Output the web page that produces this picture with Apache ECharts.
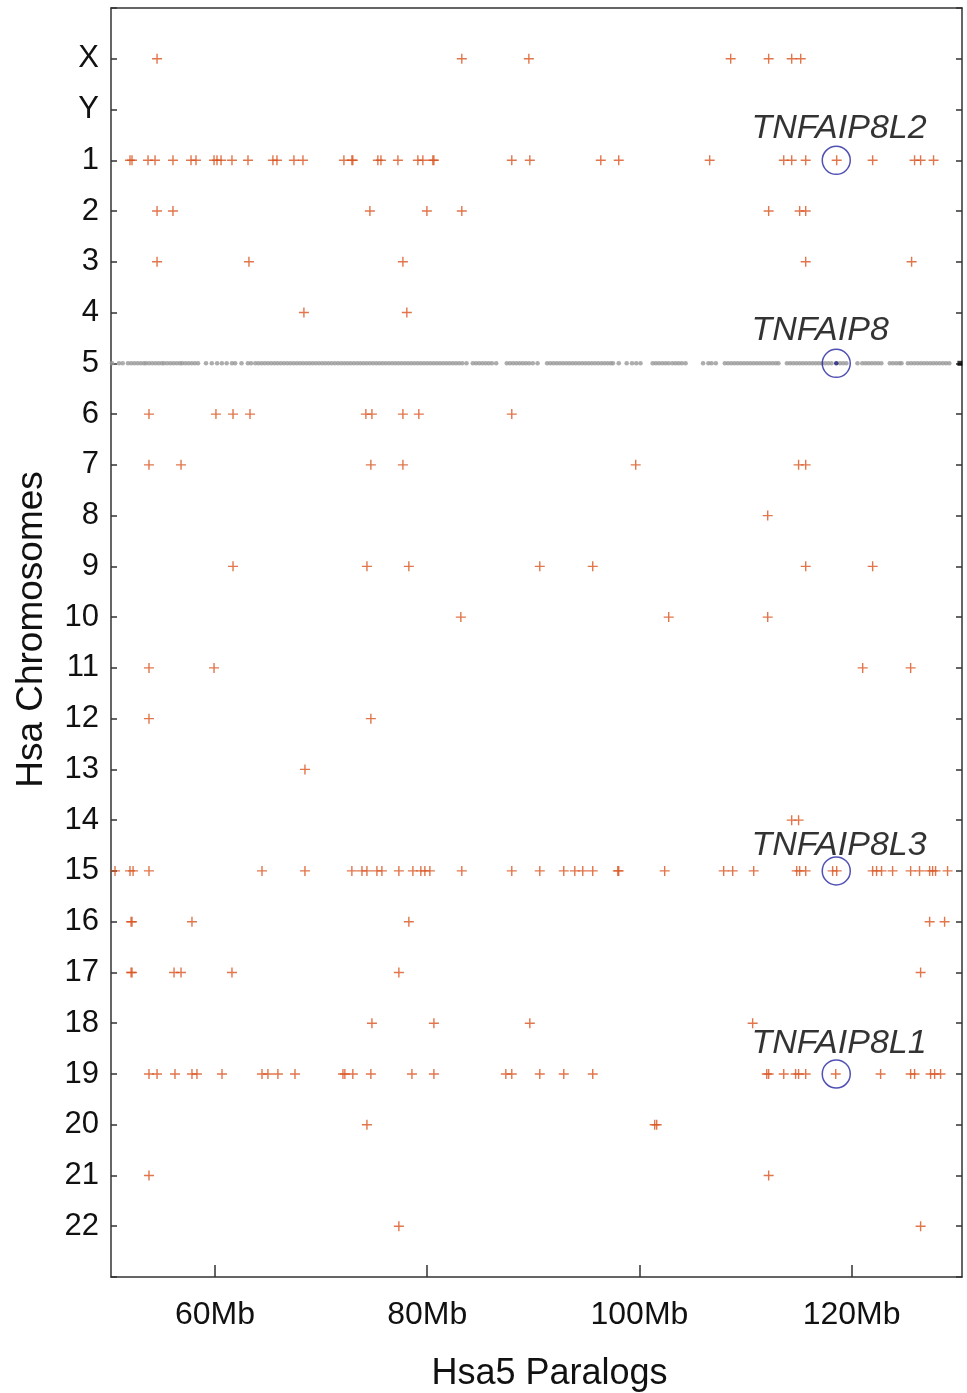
<!DOCTYPE html>
<html>
<head>
<meta charset="utf-8">
<script src="https://cdn.jsdelivr.net/npm/echarts@6/dist/echarts.min.js"></script>
<style>
html,body{margin:0;padding:0;background:#fff;}
#chart{width:967px;height:1393px;}
</style>
</head>
<body>
<div id="chart"></div>
<script>
// Chromosome categories (top to bottom)
const categories = ['X','Y','1','2','3','4','5','6','7','8','9','10','11','12','13','14','15','16','17','18','19','20','21','22'];
// x tick values (Mb)
const xTicks = [60, 80, 100, 120];

// Paralog positions on Hsa5 (Mb) for each chromosome row
const chrX = [54.54, 83.26, 89.58, 108.6, 112.18, 114.35, 115.2];
const chrY = [];
const chr1 = [51.99, 52.18, 53.69, 54.35, 56.04, 57.74, 58.21, 59.91, 60.19, 60.57, 61.6, 63.11, 65.46, 65.84, 67.44, 68.29, 72.15, 72.9, 72.99, 75.35, 75.64, 77.24, 79.12, 79.59, 80.53, 80.63, 87.97, 89.67, 96.36, 98.05, 106.62, 113.6, 114.35, 115.67, 118.59, 121.98, 125.93, 126.5, 127.72];
const chr2 = [54.54, 56.04, 74.6, 79.97, 83.26, 112.18, 115.1, 115.67];
const chr3 = [54.54, 63.2, 77.71, 115.67, 125.65];
const chr4 = [68.38, 78.08];
const chr5 = [];
const chr6 = [53.78, 60.09, 61.7, 63.3, 74.22, 74.79, 77.71, 79.21, 87.97];
const chr7 = [53.78, 56.8, 74.69, 77.71, 99.65, 115.0, 115.67];
const chr8 = [112.09];
const chr9 = [61.7, 74.32, 78.27, 90.61, 95.6, 115.67, 121.98];
const chr10 = [83.17, 102.76, 112.09];
const chr11 = [53.78, 59.91, 121.04, 125.56];
const chr12 = [53.78, 74.69];
const chr13 = [68.48];
const chr14 = [114.35, 115.0];
const chr15 = [50.58, 51.99, 52.28, 53.78, 64.43, 68.48, 72.9, 73.85, 74.32, 75.26, 75.73, 77.33, 78.65, 79.4, 79.78, 80.25, 83.26, 87.97, 90.61, 92.87, 93.91, 94.66, 95.6, 97.96, 98.05, 102.38, 107.94, 108.79, 110.77, 114.82, 115.1, 115.67, 118.21, 118.59, 121.98, 122.35, 122.82, 123.86, 125.56, 126.4, 127.35, 127.63, 127.91, 129.04];
const chr16 = [52.09, 52.18, 57.83, 78.27, 127.35, 128.76];
const chr17 = [52.09, 52.18, 56.14, 56.8, 61.6, 77.33, 126.5];
const chr18 = [74.79, 80.63, 89.67, 110.67];
const chr19 = [53.78, 54.54, 56.23, 57.83, 58.3, 60.66, 64.43, 64.99, 65.93, 67.54, 72.06, 72.24, 72.99, 74.69, 78.56, 80.63, 87.41, 87.97, 90.61, 92.87, 95.6, 112.0, 112.18, 113.6, 114.72, 115.0, 115.67, 118.5, 122.73, 125.56, 125.93, 127.44, 127.82, 128.38];
const chr20 = [74.32, 101.44, 101.63];
const chr21 = [53.78, 112.18];
const chr22 = [77.33, 126.5];

// Hsa5 genes themselves (grey dots on row 5), Mb
const hsa5Genes = [50.3, 50.95, 51.3,
  51.8, 52.1, 52.4, 52.7, 53.0, 53.3, 53.5, 53.8, 54.1, 54.4, 54.7, 55.0, 55.2, 55.5, 55.8, 56.1, 56.4, 56.7, 56.9, 57.2, 57.5, 57.8, 58.1, 58.4,
  59.15, 59.7, 60.2, 60.65, 61.1, 61.6, 61.9, 62.5,
  63.1, 63.4, 63.8, 64.1, 64.4, 64.7, 65.0, 65.3, 65.6, 65.9, 66.2, 66.5, 66.8, 67.1, 67.4, 67.7, 68.0, 68.3, 68.6, 68.9, 69.2, 69.5, 69.8, 70.1, 70.4, 70.7, 71.0, 71.3, 71.6, 71.9, 72.2, 72.5, 72.8, 73.1, 73.4, 73.7, 74.0, 74.3, 74.6, 74.9, 75.2, 75.5, 75.8, 76.1, 76.4, 76.7, 77.0, 77.3, 77.6, 77.9, 78.2, 78.5, 78.8, 79.1, 79.4, 79.7, 80.0, 80.3, 80.6, 80.9, 81.2, 81.5, 81.8, 82.1, 82.4, 82.7, 83.0, 83.3, 83.7,
  84.3, 84.6, 84.9, 85.2, 85.5, 85.8, 86.1, 86.5, 87.5, 87.8, 88.1, 88.4, 88.7, 89.0, 89.3, 89.6, 89.95,
  90.4,
  91.3, 91.6, 91.9, 92.2, 92.5, 92.8, 93.1, 93.4, 93.7, 94.0, 94.3, 94.6, 94.9, 95.2, 95.5, 95.8, 96.1, 96.4, 96.7, 97.0, 97.3, 97.5,
  98.05, 98.8, 99.3, 99.7, 100.1,
  101.25, 101.55, 101.85, 102.15, 102.45, 102.75, 103.1, 103.4, 103.7, 104.0, 104.35,
  106.0, 106.5, 106.8, 107.2,
  108.05, 108.35, 108.65, 108.95, 109.25, 109.55, 109.85, 110.15, 110.45, 110.75, 111.05, 111.35, 111.65, 111.95, 112.25, 112.55, 112.85, 113.1, 113.9, 114.2, 114.5, 114.8, 115.1, 115.4, 115.7, 116.0, 116.3, 116.6, 116.9, 117.2, 117.5, 117.8, 118.1, 118.9, 119.2, 119.5,
  120.55, 121.0, 121.3, 121.6, 121.9, 122.2, 122.5, 122.8,
  123.6, 123.9, 124.2, 124.5, 124.7,
  125.3, 125.6, 125.9, 126.2, 126.5, 126.8, 127.1, 127.4, 127.7, 128.0, 128.3, 128.6, 128.9, 129.2];
const hsa5Edge = [130.2];

// Highlighted TNFAIP8 family genes
const geneNames = ['TNFAIP8L2', 'TNFAIP8', 'TNFAIP8L3', 'TNFAIP8L1'];
const geneChrom = ['1', '5', '15', '19'];
const genePos = [118.55, 118.55, 118.55, 118.55];

const paralogRows = [chrX, chrY, chr1, chr2, chr3, chr4, chr5, chr6, chr7, chr8, chr9, chr10, chr11, chr12, chr13, chr14, chr15, chr16, chr17, chr18, chr19, chr20, chr21, chr22];

const paralogData = [];
paralogRows.forEach((row, i) => row.forEach(v => paralogData.push([v, i])));
const row5 = categories.indexOf('5');
const greyData = hsa5Genes.map(v => [v, row5]);
const edgeData = hsa5Edge.map(v => [v, row5]);
const labelDy = [-17, -18, -11, -16];
const geneData = geneNames.map((n, i) => ({
  value: [genePos[i], categories.indexOf(geneChrom[i])],
  name: n,
  label: { position: [-70, labelDy[i]] }
}));

const FONT = "'Liberation Sans', Arial, Helvetica, sans-serif";
const plus = 'path://M4.3,0h1.4v4.3h4.3v1.4h-4.3v4.3h-1.4v-4.3h-4.3v-1.4h4.3z';

const chart = echarts.init(document.getElementById('chart'), null, { renderer: 'canvas' });
chart.setOption({
  backgroundColor: '#ffffff',
  animation: false,
  grid: { left: 111, right: 5, top: 8, bottom: 116, containLabel: false, outerBoundsMode: 'none' },
  xAxis: [{
    type: 'value', min: 50.2, max: 130.4, position: 'bottom',
    name: 'Hsa5 Paralogs', nameLocation: 'middle', nameGap: 79,
    nameTextStyle: { fontFamily: FONT, fontSize: 36, color: '#111', padding: [0, 0, 0, 26] },
    axisLine: { show: true, onZero: false, lineStyle: { color: '#333', width: 1.5 } },
    axisTick: { show: true, inside: true, length: 12, customValues: xTicks, lineStyle: { color: '#333', width: 1.5 } },
    axisLabel: { customValues: xTicks, formatter: v => v + 'Mb', fontFamily: FONT, fontSize: 32, color: '#111', margin: 22 },
    splitLine: { show: false }
  }, {
    type: 'value', min: 50.2, max: 130.4, position: 'top',
    axisLine: { show: true, onZero: false, lineStyle: { color: '#333', width: 1.5 } },
    axisTick: { show: false }, axisLabel: { show: false }, splitLine: { show: false }
  }],
  yAxis: [{
    type: 'value', min: -1, max: 24, interval: 1, inverse: true, position: 'left',
    name: 'Hsa Chromosomes', nameLocation: 'middle', nameGap: 61, nameRotate: 90,
    nameTextStyle: { fontFamily: FONT, fontSize: 37, color: '#111', padding: [0, 0, 0, 26] },
    axisLine: { show: true, onZero: false, lineStyle: { color: '#333', width: 1.5 } },
    axisTick: { show: true, inside: true, length: 6, lineStyle: { color: '#333', width: 1.5 } },
    axisLabel: { formatter: v => (v >= 0 && v < categories.length) ? categories[v] : '', fontFamily: FONT, fontSize: 31, color: '#111', margin: 12 },
    splitLine: { show: false }
  }, {
    type: 'value', min: -1, max: 24, interval: 1, inverse: true, position: 'right',
    axisLine: { show: true, onZero: false, lineStyle: { color: '#333', width: 1.5 } },
    axisTick: { show: true, inside: true, length: 6, lineStyle: { color: '#333', width: 1.5 } },
    axisLabel: { show: false }, splitLine: { show: false }
  }],
  series: [{
    type: 'scatter', name: 'Hsa5 genes', data: greyData,
    symbol: 'circle', symbolSize: 4.6,
    itemStyle: { color: '#999999' }, silent: true
  }, {
    type: 'scatter', name: 'edge', data: edgeData,
    symbol: 'rect', symbolSize: [5, 5],
    itemStyle: { color: '#000' }, silent: true
  }, {
    type: 'scatter', name: 'Paralogs', data: paralogData,
    symbol: plus, symbolSize: 10,
    itemStyle: { color: '#d9531e' }, silent: true
  }, {
    type: 'scatter', name: 'TNFAIP8 dot', data: [[genePos[1], row5]],
    symbol: 'circle', symbolSize: 4.5,
    itemStyle: { color: '#10106e' }, silent: true, z: 4
  }, {
    type: 'scatter', name: 'Genes', data: geneData,
    symbol: 'circle', symbolSize: 28,
    itemStyle: { color: 'rgba(0,0,0,0)', borderColor: '#2525a0', borderWidth: 1.5 },
    label: {
      show: true, formatter: p => p.name, align: 'left', verticalAlign: 'middle',
      fontFamily: FONT, fontStyle: 'italic', fontSize: 34, color: '#000'
    },
    silent: true, z: 5
  }]
});
</script>
</body>
</html>
